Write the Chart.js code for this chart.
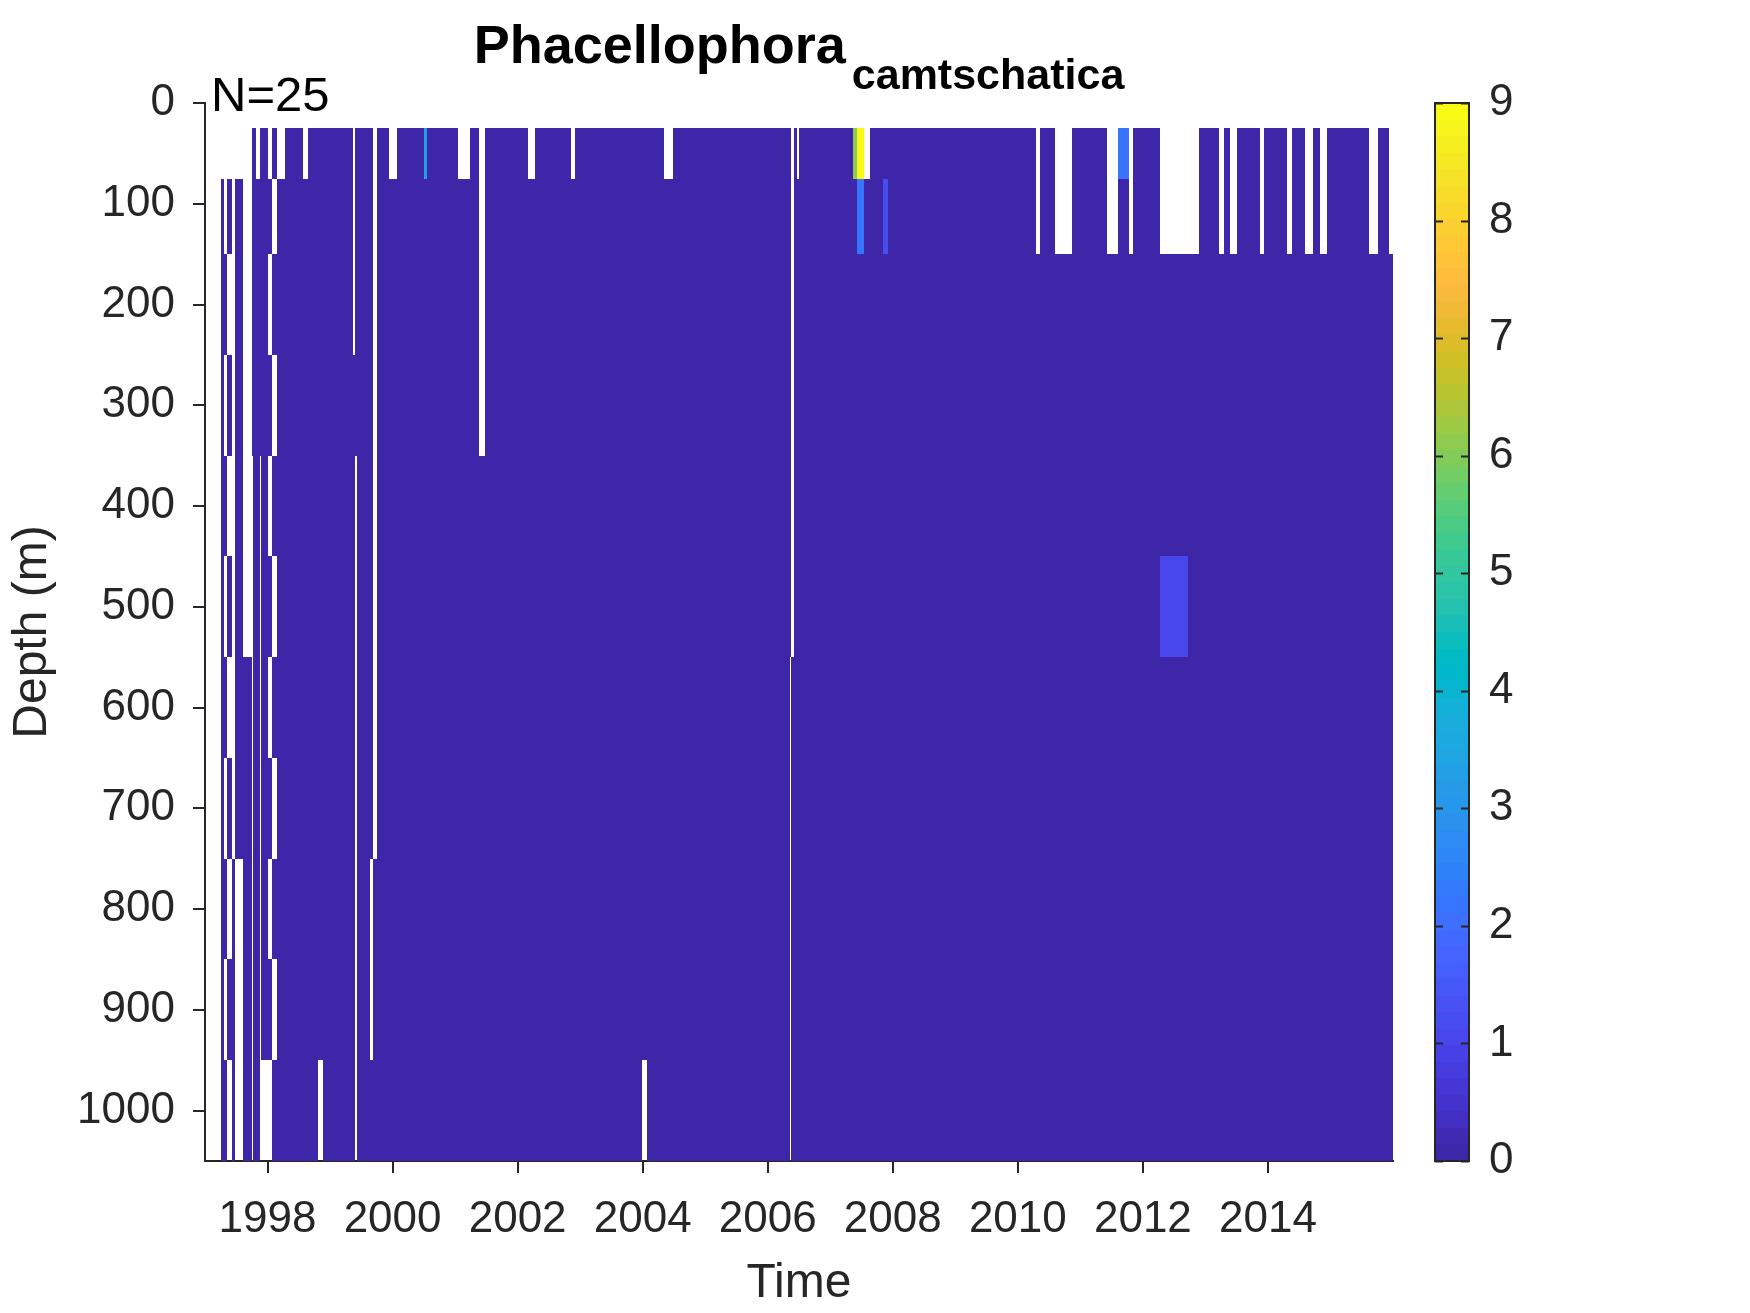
<!DOCTYPE html>
<html>
<head>
<meta charset="utf-8">
<title>Phacellophora camtschatica</title>
<script src="https://cdn.jsdelivr.net/npm/chart.js@4.4.1/dist/chart.umd.min.js"></script>
<style>
  html, body { margin: 0; padding: 0; background: #fff; overflow: hidden; }
  #wrap { width: 1750px; height: 1313px; }
  canvas { display: block; }
</style>
</head>
<body>
<div id="wrap"><canvas id="heat" width="1750" height="1313"></canvas></div>
<script>
// depth bin edges (m), 11 bins
const depthEdges = [25, 75, 150, 250, 350, 450, 550, 650, 750, 850, 950, 1050];

// sample column edges (decimal year); the last value closes the final column
const timeEdges = [
  1997.256, 1997.309, 1997.357, 1997.427, 1997.480, 1997.613, 1997.757, 1997.775, 1997.816, 1997.880, 1997.896,
  1998.008, 1998.075, 1998.149, 1998.280, 1998.563, 1998.648, 1998.813, 1998.893,
  1999.373, 1999.405, 1999.432, 1999.640, 1999.683, 1999.747, 1999.944,
  2000.077, 2000.500, 2000.547, 2001.043, 2001.240, 2001.384, 2001.480,
  2002.168, 2002.280, 2002.856, 2002.920, 2003.990, 2004.070, 2004.344, 2004.488,
  2006.349, 2006.378, 2006.413, 2006.467, 2006.504,
  2007.361, 2007.422, 2007.542, 2007.634, 2007.840, 2007.920,
  2010.283, 2010.362, 2010.595, 2010.872, 2011.427, 2011.608, 2011.776, 2011.848,
  2012.270, 2012.725, 2012.890, 2013.210, 2013.305, 2013.400, 2013.500, 2013.880, 2013.930,
  2014.300, 2014.380, 2014.600, 2014.715, 2014.840, 2014.940, 2015.610, 2015.757, 2015.944,
  2016.000
];

// one char per depth bin (top to bottom): '1' = sampled, '.' = no sample
const binMask = [
  '.1111111111', '..1.1.1.1.1', '.1.1.1.1.1.', '........111', '.1111111...', '......11111', '1111.......', '11111111111', '.1111111111', '1111.......', '1111111111.',
  '.1.1.1.1.1.', '1.1.1.1.1.1', '.1111111111', '11111111111', '.1111111111', '11111111111', '1111111111.', '11111111111',
  '...11111111', '1111.......', '11111111111', '11111111..1', '........111', '11111111111', '.1111111111',
  '11111111111', '11111111111', '11111111111', '.1111111111', '11111111111', '....1111111', '11111111111',
  '.1111111111', '11111111111', '.1111111111', '11111111111', '1111111111.', '11111111111', '.1111111111', '11111111111',
  '111111.....', '......11111', '11111111111', '.1111111111', '11111111111',
  '11111111111', '11111111111', '.1111111111', '11111111111', '11111111111', '11111111111',
  '..111111111', '11111111111', '..111111111', '11111111111', '..111111111', '11111111111', '..111111111', '11111111111',
  '..111111111', '..111111111', '11111111111', '..111111111', '11111111111', '..111111111', '11111111111', '..111111111', '11111111111',
  '..111111111', '11111111111', '..111111111', '11111111111', '..111111111', '11111111111', '..111111111', '11111111111', '..111111111'
];

// the few non-zero cells (all other sampled cells are 0)
const hitTime = [2000.500, 2007.361, 2007.422, 2007.422, 2007.840, 2011.608, 2012.270];
const hitBin = [0, 0, 0, 1, 1, 0, 5];
const hitCount = [3.3, 6.1, 9.0, 2.2, 1.2, 2.2, 1.0];

const timeTicks = [1998, 2000, 2002, 2004, 2006, 2008, 2010, 2012, 2014];
const depthTicks = [0, 100, 200, 300, 400, 500, 600, 700, 800, 900, 1000];
const countTicks = [0, 1, 2, 3, 4, 5, 6, 7, 8, 9];
const countMax = 9;

// parula, 64 steps
const PARULA = [
  [0.2422, 0.1504, 0.6603], [0.2504, 0.1650, 0.7076], [0.2578, 0.1818, 0.7511], [0.2647, 0.1978, 0.7952],
  [0.2706, 0.2147, 0.8364], [0.2751, 0.2342, 0.8710], [0.2783, 0.2559, 0.8991], [0.2803, 0.2782, 0.9221],
  [0.2813, 0.3006, 0.9414], [0.2810, 0.3228, 0.9579], [0.2795, 0.3447, 0.9717], [0.2760, 0.3667, 0.9829],
  [0.2699, 0.3892, 0.9906], [0.2602, 0.4123, 0.9952], [0.2440, 0.4358, 0.9988], [0.2206, 0.4603, 0.9973],
  [0.1963, 0.4847, 0.9892], [0.1834, 0.5074, 0.9798], [0.1786, 0.5289, 0.9682], [0.1764, 0.5499, 0.9520],
  [0.1687, 0.5703, 0.9359], [0.1540, 0.5902, 0.9218], [0.1460, 0.6091, 0.9079], [0.1380, 0.6276, 0.8973],
  [0.1248, 0.6459, 0.8883], [0.1113, 0.6635, 0.8763], [0.0952, 0.6798, 0.8598], [0.0689, 0.6948, 0.8394],
  [0.0297, 0.7082, 0.8163], [0.0036, 0.7203, 0.7917], [0.0067, 0.7312, 0.7660], [0.0433, 0.7411, 0.7394],
  [0.0964, 0.7500, 0.7120], [0.1408, 0.7584, 0.6842], [0.1717, 0.7670, 0.6554], [0.1938, 0.7758, 0.6251],
  [0.2161, 0.7843, 0.5923], [0.2470, 0.7918, 0.5567], [0.2906, 0.7973, 0.5188], [0.3406, 0.8008, 0.4789],
  [0.3909, 0.8029, 0.4354], [0.4456, 0.8024, 0.3909], [0.5044, 0.7993, 0.3480], [0.5616, 0.7942, 0.3045],
  [0.6174, 0.7876, 0.2612], [0.6720, 0.7793, 0.2227], [0.7242, 0.7698, 0.1910], [0.7738, 0.7598, 0.1646],
  [0.8203, 0.7498, 0.1535], [0.8634, 0.7406, 0.1596], [0.9035, 0.7330, 0.1774], [0.9393, 0.7288, 0.2100],
  [0.9728, 0.7298, 0.2394], [0.9956, 0.7434, 0.2371], [0.9970, 0.7659, 0.2199], [0.9952, 0.7893, 0.2028],
  [0.9892, 0.8136, 0.1885], [0.9786, 0.8386, 0.1766], [0.9676, 0.8639, 0.1643], [0.9610, 0.8890, 0.1537],
  [0.9597, 0.9135, 0.1423], [0.9628, 0.9373, 0.1265], [0.9691, 0.9606, 0.1064], [0.9769, 0.9839, 0.0805]
];

var FONT = '"Liberation Sans", Arial, Helvetica, sans-serif';
var AXIS = '#262626';
// wanted plot box (px)
var AREA_TOP = 103, AREA_BOTTOM = 1161;

function rgbOf(c) {
  return 'rgb(' + Math.round(c[0] * 255) + ',' + Math.round(c[1] * 255) + ',' + Math.round(c[2] * 255) + ')';
}

function countColor(v) {
  var k = Math.floor(v / countMax * PARULA.length);
  k = Math.max(0, Math.min(PARULA.length - 1, k));
  return rgbOf(PARULA[k]);
}

function cellValue(i, j) {
  for (var k = 0; k < hitTime.length; k++) {
    if (Math.abs(hitTime[k] - timeEdges[i]) < 1e-6 && hitBin[k] === j) return hitCount[k];
  }
  return 0;
}

// end labels must not push the plot box around
function noEndPadding(s) {
  s.paddingTop = 0;
  s.paddingBottom = 0;
}

var heatPlugin = {
  id: 'heat',
  beforeDatasetsDraw: function (chart) {
    var ctx = chart.ctx, xs = chart.scales.x, ys = chart.scales.y;
    ctx.save();
    for (var i = 0; i < binMask.length; i++) {
      var x0 = Math.round(xs.getPixelForValue(timeEdges[i]));
      var x1 = Math.round(xs.getPixelForValue(timeEdges[i + 1]));
      for (var j = 0; j < depthEdges.length - 1; j++) {
        if (binMask[i].charAt(j) !== '1') continue;
        var y0 = Math.round(ys.getPixelForValue(depthEdges[j]));
        var y1 = Math.round(ys.getPixelForValue(depthEdges[j + 1]));
        ctx.fillStyle = countColor(cellValue(i, j));
        ctx.fillRect(x0, y0, x1 - x0, y1 - y0);
      }
    }
    ctx.restore();
  },
  afterDraw: function (chart) {
    var ctx = chart.ctx, area = chart.chartArea, cb = chart.scales.cb;
    ctx.save();

    // colorbar
    var left = area.right + 42, w = 34;
    for (var k = 0; k < PARULA.length; k++) {
      var yTop = Math.round(cb.getPixelForValue((k + 1) * countMax / PARULA.length));
      var yBot = Math.round(cb.getPixelForValue(k * countMax / PARULA.length));
      ctx.fillStyle = rgbOf(PARULA[k]);
      ctx.fillRect(left, yTop, w, yBot - yTop);
    }
    ctx.strokeStyle = AXIS;
    ctx.lineWidth = 2;
    var cTop = cb.getPixelForValue(countMax), cBot = cb.getPixelForValue(0);
    ctx.strokeRect(left, cTop, w, cBot - cTop);
    ctx.beginPath();
    countTicks.forEach(function (v) {
      var yy = Math.round(cb.getPixelForValue(v)) + 0.5;
      ctx.moveTo(left, yy); ctx.lineTo(left + 8, yy);
      ctx.moveTo(left + w - 8, yy); ctx.lineTo(left + w, yy);
    });
    ctx.stroke();

    // title with subscript
    var cx = (area.left + area.right) / 2;
    ctx.fillStyle = '#000';
    ctx.textBaseline = 'alphabetic';
    ctx.textAlign = 'left';
    ctx.font = 'bold 54px ' + FONT;
    var w1 = ctx.measureText('Phacellophora').width;
    ctx.font = 'bold 43px ' + FONT;
    var w2 = ctx.measureText('camtschatica').width;
    var x0 = cx - (w1 + 6 + w2) / 2;
    ctx.font = 'bold 54px ' + FONT;
    ctx.fillText('Phacellophora', x0, 63);
    ctx.font = 'bold 43px ' + FONT;
    ctx.fillText('camtschatica', x0 + w1 + 6, 89);

    // sample count
    ctx.font = '49px ' + FONT;
    ctx.fillText('N=25', area.left + 6, 111);
    ctx.restore();
  }
};

Chart.defaults.font.family = FONT;

var chart = new Chart(document.getElementById('heat'), {
  type: 'scatter',
  data: { datasets: [{ data: [] }] },
  options: {
    responsive: false,
    animation: false,
    events: [],
    layout: { padding: { top: AREA_TOP, right: 100, bottom: 0, left: 0 } },
    plugins: {
      legend: { display: false },
      tooltip: { enabled: false },
      title: { display: false }
    },
    scales: {
      x: {
        type: 'linear',
        position: 'bottom',
        min: 1997,
        max: 2016,
        afterBuildTicks: function (s) { s.ticks = timeTicks.map(function (v) { return { value: v }; }); },
        afterFit: function (s) { s.height = 152; },
        grid: { drawOnChartArea: false, drawTicks: true, tickLength: 12, color: AXIS, lineWidth: 2 },
        border: { display: true, color: AXIS, width: 2 },
        ticks: {
          autoSkip: false, maxRotation: 0, padding: 20, color: AXIS,
          font: { size: 44 },
          callback: function (v) { return String(v); }
        },
        title: { display: true, text: 'Time', color: AXIS, font: { size: 48 }, padding: { top: 0, bottom: 0 } }
      },
      y: {
        type: 'linear',
        position: 'left',
        reverse: true,
        min: 0,
        max: 1050,
        afterBuildTicks: function (s) { s.ticks = depthTicks.map(function (v) { return { value: v }; }); },
        afterFit: function (s) { s.width = 205; noEndPadding(s); },
        grid: { drawOnChartArea: false, drawTicks: true, tickLength: 12, color: AXIS, lineWidth: 2 },
        border: { display: true, color: AXIS, width: 2 },
        ticks: {
          autoSkip: false, padding: 18, color: AXIS,
          font: { size: 44 },
          callback: function (v) { return String(v); }
        },
        title: { display: true, text: 'Depth (m)', color: AXIS, font: { size: 48 }, padding: { top: 4, bottom: 0 } }
      },
      cb: {
        type: 'linear',
        position: 'right',
        min: 0,
        max: countMax,
        afterBuildTicks: function (s) { s.ticks = countTicks.map(function (v) { return { value: v }; }); },
        afterFit: function (s) { s.width = 257; noEndPadding(s); },
        grid: { display: false },
        border: { display: false },
        ticks: { padding: 88, color: AXIS, font: { size: 44 } }
      }
    }
  },
  plugins: [heatPlugin]
});

// nudge the layout padding until the plot box sits where the reference has it
for (var pass = 0; pass < 3; pass++) {
  var dTop = chart.chartArea.top - AREA_TOP;
  var dBot = chart.chartArea.bottom - AREA_BOTTOM;
  if (Math.abs(dTop) < 0.5 && Math.abs(dBot) < 0.5) break;
  var p = chart.options.layout.padding;
  chart.options.layout.padding = { top: p.top - dTop, right: p.right, bottom: p.bottom + dBot, left: p.left };
  chart.update();
}
</script>
</body>
</html>
